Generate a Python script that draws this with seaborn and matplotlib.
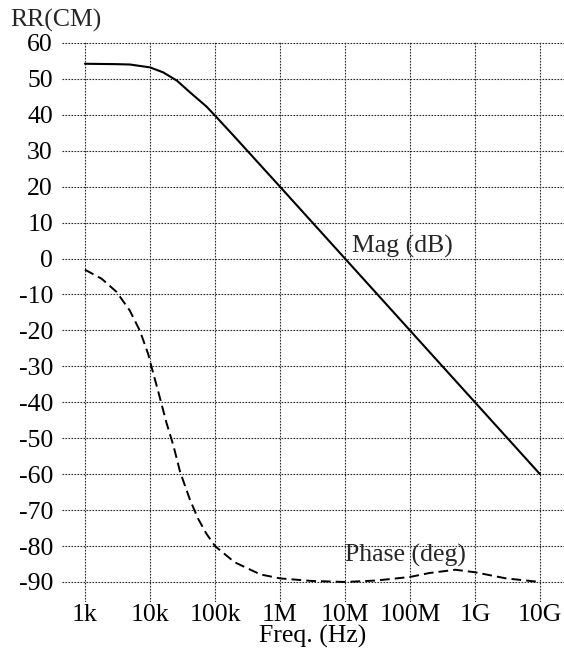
import matplotlib
matplotlib.use("Agg")
import matplotlib.pyplot as plt
import matplotlib.ticker as mticker
import seaborn as sns
import pandas as pd

# magnitude (dB)
freq_mag = [1e3, 3e3, 4.9e3, 1e4, 1.6e4, 2.6e4, 4.1e4, 7.4e4, 1e5, 2e5, 1e6, 1e7, 1e8, 1e9, 1e10]
mag_db = [54.2, 54.1, 54.0, 53.2, 51.8, 49.5, 46.3, 42.3, 39.8, 33.9, 20.0, 0.0, -20.0, -40.0, -60.0]

# phase (deg)
freq_phase = [1e3, 1.8e3, 3.07e3, 4.9e3, 7e3, 9.4e3, 1.05e4, 1.34e4, 1.8e4, 2.29e4, 2.9e4,
              4.1e4, 5.5e4, 7.4e4, 1e5, 2e5, 5e5, 1e6, 3e6, 1e7, 3e7, 1e8, 2e8, 5e8, 1e9,
              3e9, 1e10]
phase_deg = [-3.1, -5.6, -9.3, -14.5, -20.1, -26.6, -30.0, -37.0, -45.8, -52.0, -59.3,
             -67.0, -72.4, -76.6, -80.0, -84.5, -87.9, -89.0, -89.7, -90.0, -89.6, -88.6,
             -87.5, -86.6, -87.3, -89.0, -90.0]

xticks = [1e3, 1e4, 1e5, 1e6, 1e7, 1e8, 1e9, 1e10]
xtick_labels = ["1k", "10k", "100k", "1M", "10M", "100M", "1G", "10G"]
yticks = list(range(-90, 61, 10))

sns.set_theme(style="white")
plt.rcParams["font.family"] = ["Liberation Serif", "DejaVu Serif"]
fs = 18.5

df_mag = pd.DataFrame({"freq": freq_mag, "value": mag_db})
df_phase = pd.DataFrame({"freq": freq_phase, "value": phase_deg})

fig = plt.figure(figsize=(5.64, 6.52), dpi=100)
ax = fig.add_axes([0.1099, 0.0767, 0.8901, 0.8591])

sns.lineplot(data=df_mag, x="freq", y="value", ax=ax, color="black", linewidth=1.5)
sns.lineplot(data=df_phase, x="freq", y="value", ax=ax, color="black", linewidth=1.4,
             linestyle=(0, (5, 2.6)))

ax.set_xscale("log")
ax.set_xlim(443, 2.34e10)
ax.set_ylim(-95.57, 60.3)
ax.set_xticks(xticks)
ax.set_xticklabels(xtick_labels)
ax.xaxis.set_minor_locator(mticker.NullLocator())
ax.set_yticks(yticks)
ax.set_yticklabels([str(v) for v in yticks])

ax.grid(True, which="major", color="0.15", linestyle=(0, (1.5, 1.2)), linewidth=0.8)
for s in ax.spines.values():
    s.set_visible(False)
ax.tick_params(axis="both", length=0, labelsize=fs, colors="black")
ax.tick_params(axis="y", pad=6.5)
ax.tick_params(axis="x", pad=1.5)

ax.set_xlabel("Freq. (Hz)", fontsize=fs, labelpad=-0.5, color="black")
ax.set_ylabel("")

ax.text(1.28e7, 1.6, "Mag (dB)", fontsize=fs, va="baseline", ha="left")
ax.text(1.0e7, -84.4, "Phase (deg)", fontsize=fs, va="baseline", ha="left")

fig.text(10 / 564, 1 - 27 / 652, "RR(CM)", fontsize=fs, va="baseline", ha="left")

fig.savefig("out.png", dpi=100)
